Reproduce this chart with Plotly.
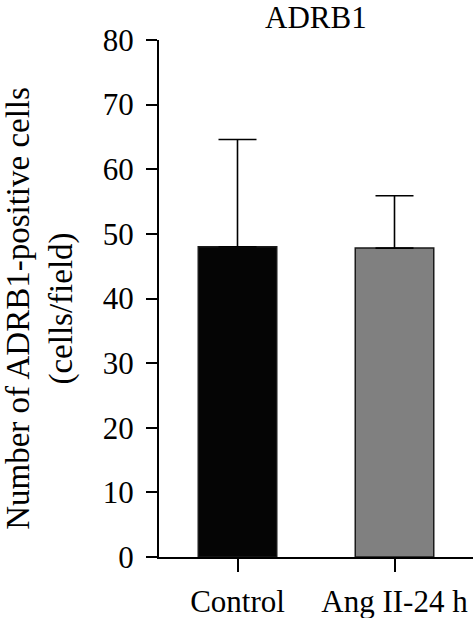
import plotly.graph_objects as go

categories = ["Control", "Ang II-24 h"]
means = [48.0, 47.8]
sd_upper = [16.6, 8.1]
bar_colors = ["#050505", "#808080"]
y_ticks = [0, 10, 20, 30, 40, 50, 60, 70, 80]
title_text = "ADRB1"
y_title = "Number of ADRB1-positive cells<br>(cells/field)"

FONT = "Liberation Serif"
FS = 31

fig = go.Figure()
fig.add_trace(go.Bar(
    x=categories, y=means, width=0.5,
    marker=dict(color=bar_colors, line=dict(color="#1a1a1a", width=1.5)),
    error_y=dict(type="data", array=sd_upper, arrayminus=[0, 0], symmetric=False,
                 color="black", thickness=1.6, width=19),
    showlegend=False,
))

fig.update_layout(
    width=473, height=618,
    margin=dict(l=159, r=0, t=40, b=61),
    paper_bgcolor="white", plot_bgcolor="white",
    font=dict(family=FONT, size=FS, color="black"),
    bargap=0.5,
    xaxis=dict(range=[-0.5, 1.5], showline=True, linecolor="black", linewidth=2,
               ticks="outside", ticklen=13, tickwidth=2, tickcolor="black",
               showgrid=False, zeroline=False, ticklabelstandoff=3,
               tickfont=dict(family=FONT, size=FS)),
    yaxis=dict(range=[0, 80], tickvals=y_ticks, showline=True, linecolor="black", linewidth=2,
               ticks="outside", ticklen=11, tickwidth=2, tickcolor="black",
               showgrid=False, zeroline=False, ticklabelstandoff=6,
               tickfont=dict(family=FONT, size=FS)),
    annotations=[
        dict(text=title_text, xref="paper", yref="paper", x=0.5, y=(557 - 18) / 517,
             xanchor="center", yanchor="middle", showarrow=False,
             font=dict(family=FONT, size=FS)),
        dict(text=y_title, xref="paper", yref="paper", x=(40 - 159) / 314, y=0.48,
             xanchor="center", yanchor="middle", textangle=-90, showarrow=False,
             font=dict(family=FONT, size=33)),
    ],
    shapes=[dict(type="line", xref="paper", yref="paper", x0=-11 / 314, x1=0, y0=0, y1=0,
                 line=dict(color="black", width=2))],
)

fig.write_html("out.html", config={"displayModeBar": False, "staticPlot": True},
               post_script="document.body.style.margin='0';document.body.style.overflow='hidden';")
